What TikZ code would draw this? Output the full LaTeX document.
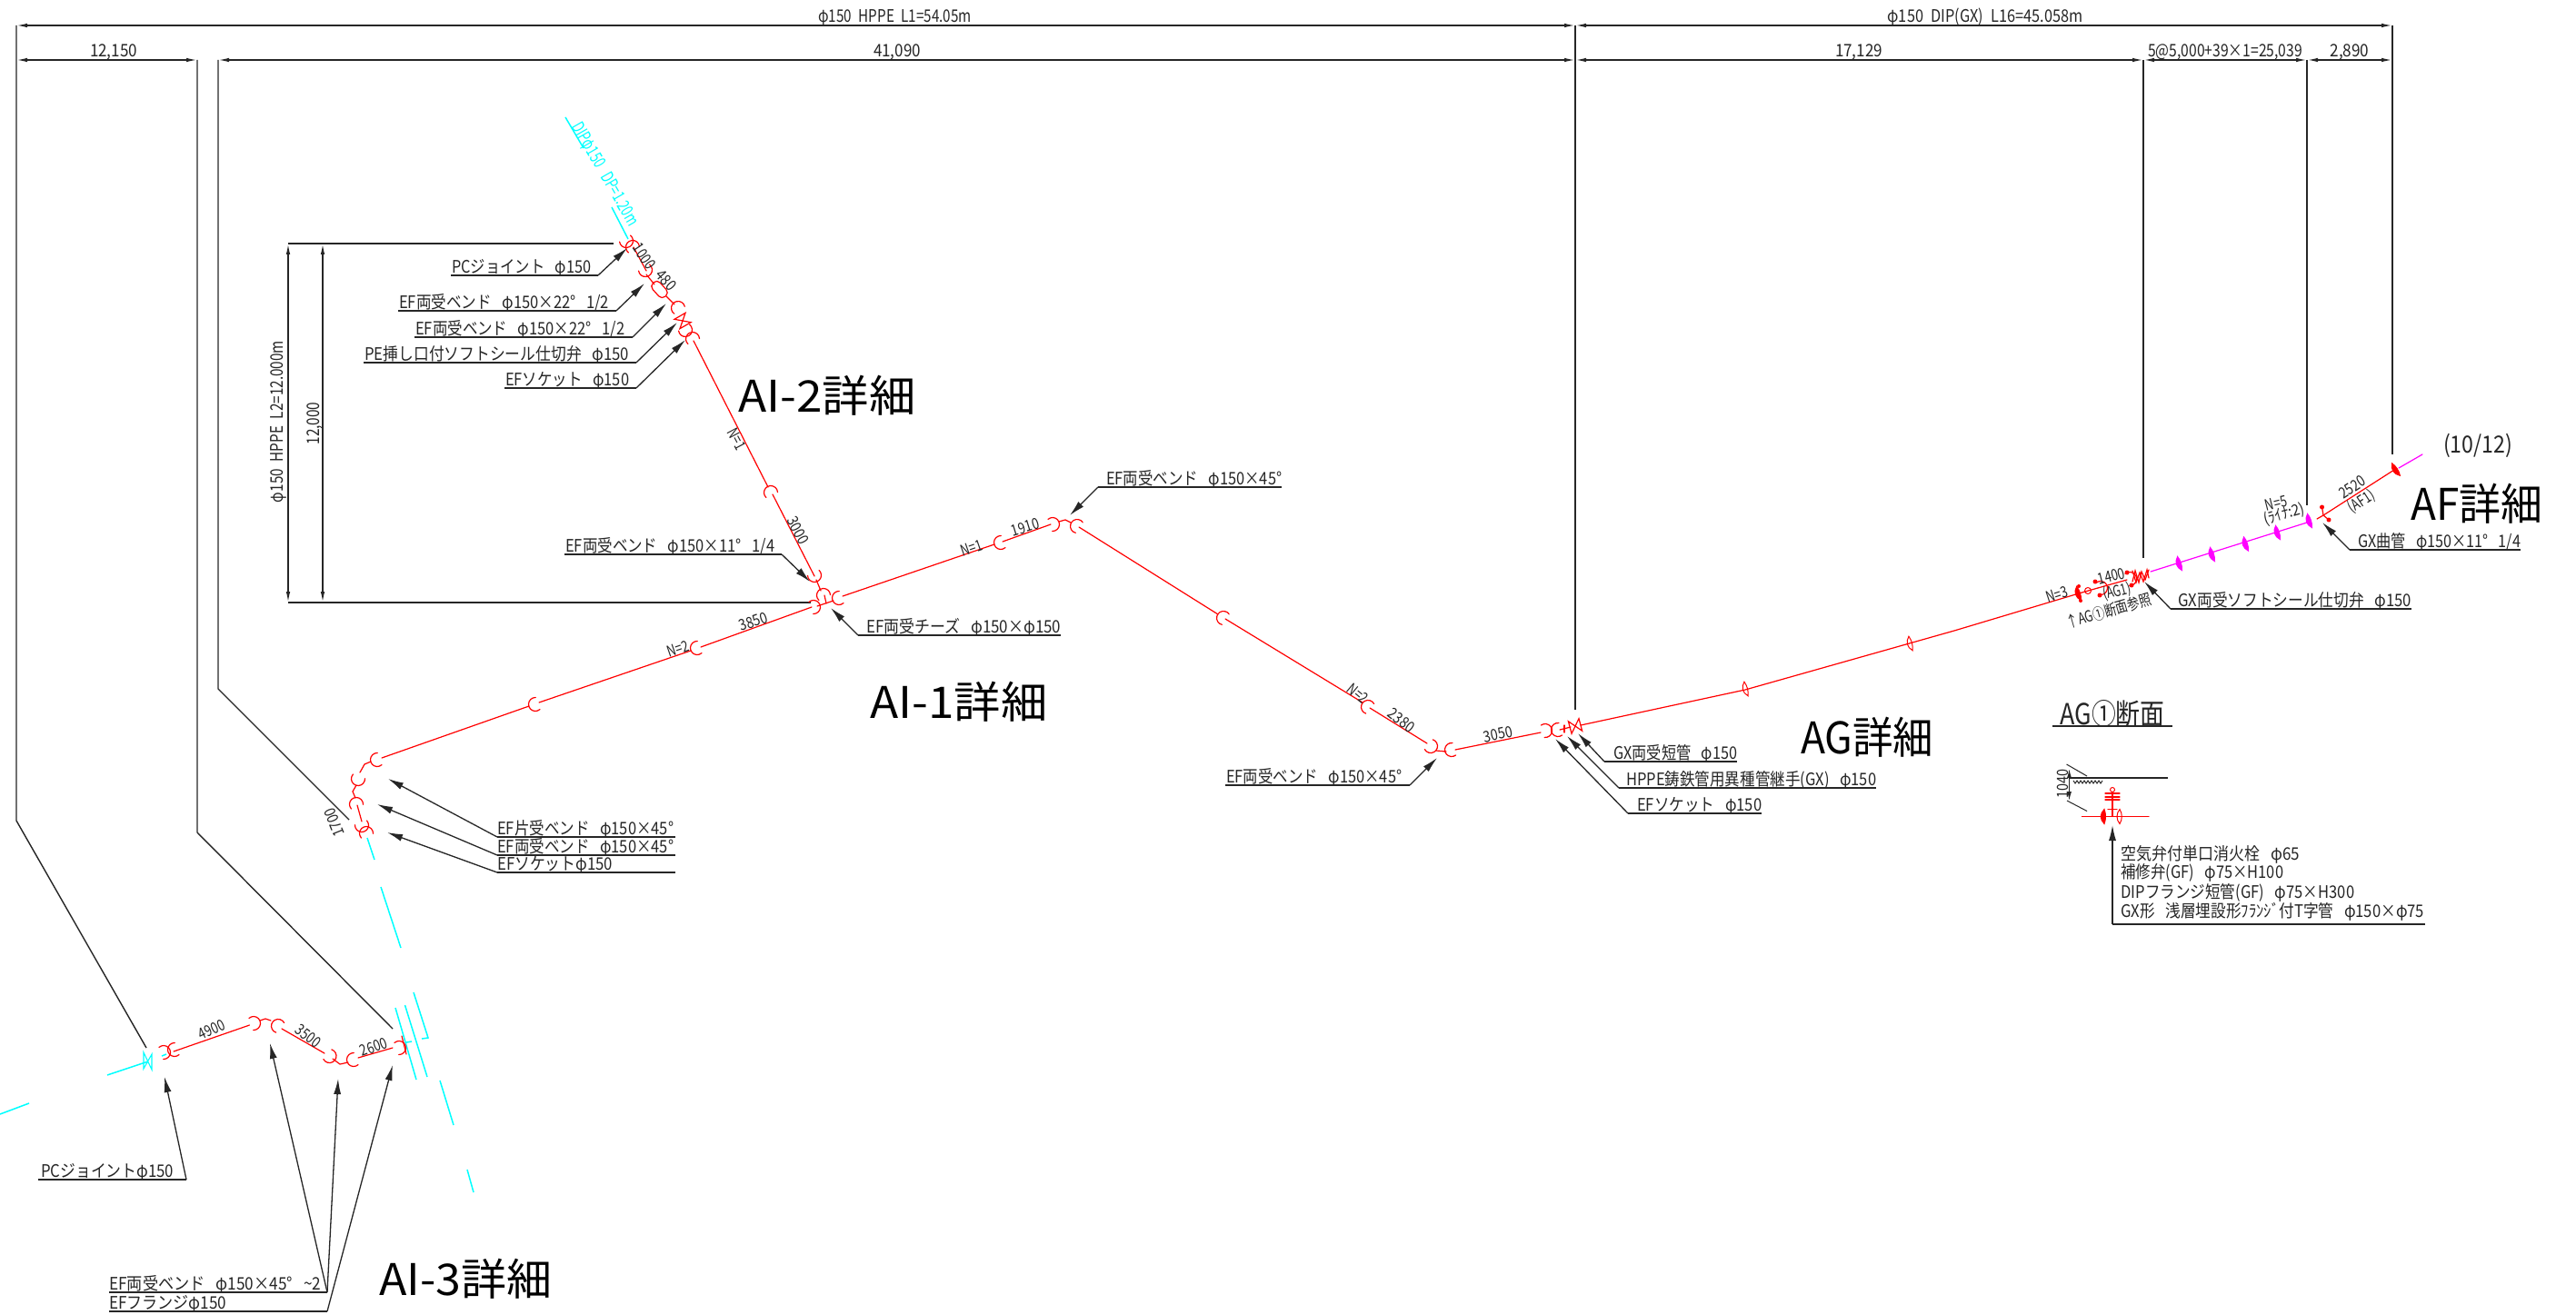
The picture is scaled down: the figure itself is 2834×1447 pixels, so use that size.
\documentclass[tikz,border=0pt]{standalone}
\usepackage{fontspec}
\usepackage{graphicx}
\setmainfont{Noto Sans CJK JP}
\usetikzlibrary{arrows.meta}
\definecolor{cy}{HTML}{00FFFF}
\definecolor{mg}{HTML}{FF00FF}
\definecolor{rd}{HTML}{FF0000}
\newcommand\Tw[2]{\setbox0=\hbox{#2}\pgfmathsetmacro\tmpsc{#1/\the\wd0}\scalebox{\tmpsc}[1]{\box0}}
\newcommand\sG{\hspace{.7em}}
\newcommand\Fs[1]{\fontsize{#1}{#1}\selectfont}
\tikzset{
 pipe/.style={draw=rd,line width=1.2pt,line cap=round},
 pipem/.style={draw=mg,line width=1.2pt,line cap=round},
 pipec/.style={draw=cy,line width=1.5pt},
 ink/.style={draw=black!85,line width=1.4pt},
 under/.style={draw=black!85,line width=1.8pt},
 dimh/.style={draw=black!85,line width=1.5pt,{Latex[length=12pt,width=4.5pt]}-{Latex[length=12pt,width=4.5pt]}},
 lead/.style={draw=black!85,line width=1.3pt,-{Latex[length=17pt,width=8pt]}},
 txt/.style={inner sep=0pt,text=black!85,font=\Fs{19}},
 sm/.style={inner sep=0pt,text=black!85,font=\Fs{17}},
 ttl/.style={inner sep=0pt,text=black,font=\Fs{48}},
}
% socket: C opening towards angle #4
\newcommand\Sk[4][pipe]{\draw[#1,shift={(#2,-#3)},rotate=#4] (68:7.5) arc (68:292:7.5);}
% lens fitting
\newcommand\Ln[4][rd]{\draw[draw=#1,line width=1pt,fill=#1,shift={(#2,-#3)},rotate=#4] (0,8) .. controls (-5,3) and (-5,-3) .. (0,-8) .. controls (2,-3) and (2,3) .. (0,8) -- cycle;}
% bowtie
\newcommand\Bw[3]{\draw[pipe,shift={(#1,-#2)},rotate=#3] (-6,7)--(6,-7)--(6,7)--(-6,-7)--cycle;}
% leader label, elbow at right end: id, xl, xr, y, text start, text end, tip x, tip y, text
\newcommand\Ld[9]{%
 \coordinate (#1a) at (#2,-#4);\coordinate (#1e) at (#3,-#4);\coordinate (#1t) at (#7,-#8);
 \node[txt,anchor=base west] (#1n) at (#5,-#4+2.5) {\Tw{\the\numexpr#6-#5\relax}{#9}};
 \draw[under] (#1a)--(#1e);\draw[lead] (#1e)--(#1t);}
% leader label, elbow at left end
\newcommand\Lr[9]{%
 \coordinate (#1a) at (#2,-#4);\coordinate (#1e) at (#3,-#4);\coordinate (#1t) at (#7,-#8);
 \node[txt,anchor=base west] (#1n) at (#5,-#4+2.5) {\Tw{\the\numexpr#6-#5\relax}{#9}};
 \draw[under] (#1a)--(#1e);\draw[lead] (#1a)--(#1t);}
\newcommand\Tx[7][txt]{\node[#1,rotate=#5] (#2) at (#3,-#4) {\Tw{#6}{#7}};}
\begin{document}
\begin{tikzpicture}[x=1pt,y=1pt]
\useasboundingbox (0,0) rectangle (2834,-1447);
\fill[white] (0,0) rectangle (2834,-1447);
% === dimension lines ===
\coordinate (v1) at (18,-28);\coordinate (v1b) at (18,-903);\coordinate (v1c) at (161,-1153);
\coordinate (v2) at (217,-66);\coordinate (v2b) at (217,-916);\coordinate (v2c) at (432,-1132);
\coordinate (v3) at (240,-66);\coordinate (v3b) at (240,-758);\coordinate (v3c) at (384,-902);
\coordinate (v4) at (1733,-28);\coordinate (v4b) at (1733,-781);
\coordinate (v5) at (2358,-66);\coordinate (v5b) at (2358,-614);
\coordinate (v6) at (2538,-66);\coordinate (v6b) at (2538,-556);
\coordinate (v7) at (2632,-28);\coordinate (v7b) at (2632,-500);
\draw[ink] (v1)--(v1b)--(v1c);
\draw[ink] (v2)--(v2b)--(v2c);
\draw[ink] (v3)--(v3b)--(v3c);
\draw[ink] (v4)--(v4b);\draw[ink] (v5)--(v5b);\draw[ink] (v6)--(v6b);\draw[ink] (v7)--(v7b);
\draw[dimh] (v1)--(v4);\draw[dimh] (v4)--(v7);
\coordinate (r1) at (18,-66);\coordinate (r2) at (1733,-66);\coordinate (r3) at (2632,-66);
\draw[dimh] (r1)--(v2);\draw[dimh] (v3)--(r2);\draw[dimh] (r2)--(v5);\draw[dimh] (v5)--(v6);\draw[dimh] (v6)--(r3);
\Tx{d1}{984.5}{19}{0}{169}{φ150\hspace{.5em}HPPE\hspace{.5em}L1=54.05m}
\Tx{d2}{2184}{19}{0}{215}{φ150\hspace{.5em}DIP(GX)\hspace{.5em}L16=45.058m}
\Tx{d3}{125}{57}{0}{52}{12,150}
\Tx{d4}{987}{57}{0}{52}{41,090}
\Tx{d5}{2045}{57}{0}{52}{17,129}
\Tx{d6}{2448}{57}{0}{170}{5@5,000+39×1=25,039}
\Tx{d7}{2585}{57}{0}{43}{2,890}
% 12 m dimension
\coordinate (h1) at (317,-268);\coordinate (h1e) at (675,-268);\coordinate (h1m) at (355,-268);
\coordinate (h2) at (317,-663);\coordinate (h2e) at (892,-663);\coordinate (h2m) at (355,-663);
\draw[ink] (h1)--(h1e);\draw[ink] (h2)--(h2e);
\draw[dimh] (h1)--(h2);\draw[dimh] (h1m)--(h2m);
\Tx{d8}{346}{466}{90}{47}{12,000}
\Tx{d9}{306}{464}{90}{178}{φ150\hspace{.5em}HPPE\hspace{.5em}L2=12.000m}
% === AI-2 branch ===
\draw[pipec] (622,-129)--(642,-163);\draw[pipec] (673,-228)--(691,-263);
\node[txt,text=cy,rotate=-60] (cy1) at (665,-192) {\Tw{128}{DIPφ150\sG DP=1.20m}};
\Sk{689}{265}{120}\Sk{696}{272}{-60}
\draw[pipe] (697,-272)--(711,-298);
\Sk{710}{297}{120}
\draw[pipe] (711,-302)--(720,-313);
\draw[pipe,shift={(725.5,-318.5)},rotate=-48,rounded corners=5pt] (-10,-5.5) rectangle (10,5.5);
\draw[pipe] (733,-326)--(742,-335);
\Sk{746}{339}{-55}
\Bw{751}{353}{-60}
\Sk{754}{363}{120}
\Sk{762}{373}{-65}
\draw[pipe] (763,-375)--(845,-536);
\Sk{848}{542}{-65}
\draw[pipe] (850,-544)--(896,-634);
\Sk{896}{633}{115}
\draw[pipe] (898,-638)--(903,-650);
\Sk{906}{655}{-65}
\draw[pipe] (907,-655)--(909,-664);
\Sk{895}{668}{200}
\draw[pipe] (899,-667)--(917,-661);
\Sk{923}{658}{20}
% === left run ===
\draw[pipe] (893,-668)--(771,-712);
\Sk{767}{713}{20}
\draw[pipe] (760,-716)--(593,-773);
\Sk{589}{775}{20}
\draw[pipe] (582,-777)--(420,-834);
\Sk{415}{836}{20}
\draw[pipe] (408,-838)--(401,-841)--(396,-850);
\Sk{394}{857}{70}
\draw[pipe] (392,-864)--(388,-871)--(391,-878);
\Sk{392}{885}{-70}
\draw[pipe] (393,-886)--(398,-904);
\Sk{398}{908}{110}
\Sk{403}{917}{-70}
\draw[pipec] (404,-922)--(412,-946);
% === right run ===
\draw[pipe] (927,-656)--(1094,-599);
\Sk{1101}{597}{20}
\draw[pipe] (1103,-596)--(1156,-577);
\Sk{1158}{577}{200}
\draw[pipe] (1165,-574)--(1172,-572)--(1178,-575);
\Sk{1185}{579}{-35}
\draw[pipe] (1187,-580)--(1340,-676);
\Sk{1346}{680}{-35}
\draw[pipe] (1348,-681)--(1499,-773);
\Sk{1505}{778}{-40}
\draw[pipe] (1507,-779)--(1570,-818);
\Sk{1574}{821}{140}
\draw[pipe] (1580,-826)--(1591,-827);
\Sk{1597}{825}{15}
\draw[pipe] (1601,-825)--(1695,-806);
\Sk{1700}{804}{195}
\Sk{1714}{803}{15}
\draw[pipe] (1716,-803)--(1728,-800);
\draw[pipe] (1721,-798)--(1721,-806);
\Bw{1733}{799}{15}
\draw[pipe] (1739,-798)--(1920,-759)--(2150,-694)--(2287,-653);
\draw[pipe,line width=1pt,shift={(1921,-758)},rotate=15] (0,8) .. controls (-5,3) and (-5,-3) .. (0,-8) .. controls (2,-3) and (2,3) .. (0,8) -- cycle;
\draw[pipe,line width=1pt,shift={(2102,-708)},rotate=15] (0,8) .. controls (-5,3) and (-5,-3) .. (0,-8) .. controls (2,-3) and (2,3) .. (0,8) -- cycle;
\Ln{2287}{653}{18}
\fill[rd] (2287,-645) circle (2) (2289,-661) circle (2);
\draw[pipe,line width=1pt] (2297,-650) circle (3.5);
\draw[pipe] (2287,-653)--(2308,-647);
\Sk{2311}{647}{200}
\fill[rd] (2305,-640) circle (2.5) (2310,-655) circle (2.5);
\draw[pipe] (2308,-647)--(2340,-638);
\Sk{2343}{637}{200}
\fill[rd] (2340,-630) circle (2.5) (2345,-644) circle (2.5);
\draw[pipe] (2346,-640)--(2349,-628)--(2353,-641)--(2356,-629)--(2360,-638)--(2364,-627);
\draw[pipe] (2346,-628)--(2350,-641)--(2354,-630)--(2358,-640)--(2362,-627)--(2364,-636);
\draw[pipem] (2366,-629)--(2538,-575);
\Ln[mg]{2398}{620}{18}\Ln[mg]{2434}{610}{18}\Ln[mg]{2471}{598.5}{18}\Ln[mg]{2506}{586}{18}\Ln[mg]{2541}{573}{18}
\draw[pipe] (2549,-571)--(2556,-567)--(2554.5,-558);
\draw[pipe] (2556,-567)--(2562,-572);
\fill[rd] (2554.5,-558) circle (2.5) (2562,-572) circle (2.5);
\draw[pipe] (2556,-567)--(2634,-517);
\Ln{2636}{516.6}{33}
\draw[pipem] (2639,-515)--(2665,-500);
% === AI-3 ===
\draw[pipec] (419,-976)--(441,-1043);
\draw[pipec] (435,-1109)--(458,-1188);\draw[pipec] (445.5,-1106)--(470,-1185);
\draw[pipec] (455,-1092)--(471,-1142)--(464,-1143);
\draw[pipec] (447,-1147)--(453,-1146);
\draw[pipec] (484,-1189)--(499,-1238);\draw[pipec] (514,-1287)--(521,-1312);
\draw[pipec] (118,-1183)--(163,-1168);\draw[pipec] (0,-1226)--(32,-1214);
\draw[cy,line width=1.1pt] (158,-1158)--(167,-1177)--(167,-1160)--(158,-1176)--cycle;
\draw[pipec] (178,-1162)--(183,-1160);
\Sk{180}{1158}{200}\Sk{192}{1155}{20}
\draw[pipe] (191,-1157)--(274.5,-1128);
\Sk{279}{1126}{200}
\draw[pipe] (286,-1123)--(292,-1121)--(298,-1123);
\Sk{306}{1129}{-40}
\draw[pipe] (310,-1132)--(357,-1159);
\Sk{362.5}{1162}{140}
\draw[pipe] (366,-1165)--(374,-1171)--(383,-1169);
\Sk{389}{1166}{20}
\draw[pipe] (394,-1164)--(432,-1153);
\Sk{439}{1153}{200}
\draw[pipe] (442,-1140)--(447,-1160);
\Tx[sm]{a1}{233}{1133}{25}{30}{4900}
\Tx[sm]{a2}{339}{1140}{-38}{30}{3500}
\Tx[sm]{a3}{411}{1152}{20}{30}{2600}
\Ld{la}{42}{205}{1298}{45}{191}{181}{1185}{PCジョイントφ150}
\Ld{lb}{120}{360}{1422}{120}{353}{297}{1148}{EF両受ベンド\sG φ150×45°\sG\textasciitilde 2}
\coordinate (lbt2) at (372,-1187);
\draw[lead] (lbe)--(lbt2);
\Ld{lc}{120}{360}{1443}{120}{249}{432}{1172}{EFフランジφ150}
% === pipe labels ===
\Tx[sm]{p1}{709}{282}{-56}{30}{1000}
\Tx[sm]{p2}{733}{308}{-48}{24}{480}
\Tx[sm]{p3}{811}{483}{-62}{24}{N=1}
\Tx[sm]{p4}{878}{584}{-62}{32}{3000}
\Tx[sm]{p5}{829}{684}{19}{32}{3850}
\Tx[sm]{p6}{746}{714}{19}{24}{N=2}
\Tx[sm]{p7}{1069}{603}{19}{24}{N=1}
\Tx[sm]{p8}{1128}{580}{17}{31}{1910}
\Tx[sm]{p9}{1494}{763}{-40}{24}{N=2}
\Tx[sm]{p10}{1542}{793}{-38}{32}{2380}
\Tx[sm]{p11}{1648}{808}{12}{32}{3050}
\Tx[sm]{p12}{2263}{654.4}{18}{24}{N=3}
\Tx[sm]{p13}{2323}{634}{14}{30}{1400}
\Tx[sm]{p14}{2329}{651}{14}{31}{(AG1)}
\Tx[sm]{p15}{2320}{672}{16}{96}{↑AG①断面参照}
\Tx[sm]{p16}{2504}{554}{14}{24}{N=5}
\Tx[sm]{p17}{2513}{566}{16}{46}{(ﾗｲﾅ:2)}
\Tx[sm]{p18}{2588}{536}{33}{31}{2520}
\Tx[sm]{p19}{2598}{552}{33}{31}{(AF1)}
\Tx[sm]{p20}{368}{905}{112}{32}{1700}
% === leaders ===
\Ld{l1}{496}{658}{303}{497}{650}{690}{273}{PCジョイント\sG φ150}
\Ld{l2}{438}{678}{342}{439}{670}{709}{312}{EF両受ベンド\sG φ150×22°\sG 1/2}
\Ld{l3}{456}{696}{371}{457}{687}{733}{334}{EF両受ベンド\sG φ150×22°\sG 1/2}
\Ld{l4}{400}{700}{399}{401}{692}{745}{355}{PE挿し口付ソフトシール仕切弁\sG φ150}
\Ld{l5}{555}{700}{427}{556}{692}{754}{374}{EFソケット\sG φ150}
\Ld{l6}{621}{860}{610}{622}{852}{891}{640}{EF両受ベンド\sG φ150×11°\sG 1/4}
\Lr{l7}{944}{1167}{699}{953}{1167}{914}{669}{EF両受チーズ\sG φ150×φ150}
\Lr{l8}{1208}{1410}{536}{1217}{1410}{1177}{567}{EF両受ベンド\sG φ150×45°}
\Lr{l9}{547}{743}{921}{547}{741}{427}{857}{EF片受ベンド\sG φ150×45°}
\Lr{l10}{547}{743}{941}{547}{741}{415}{885}{EF両受ベンド\sG φ150×45°}
\Lr{l11}{547}{743}{960}{547}{674}{426}{916}{EFソケットφ150}
\Lr{l12}{1765}{1911}{838}{1775}{1911}{1736}{807}{GX両受短管\sG φ150}
\Lr{l13}{1781}{2064}{867}{1789}{2064}{1724}{810}{HPPE鋳鉄管用異種管継手(GX)\sG φ150}
\Lr{l14}{1791}{1938}{895}{1801}{1938}{1711}{813}{EFソケット\sG φ150}
\Ld{l15}{1348}{1551}{864}{1349}{1542}{1581}{834}{EF両受ベンド\sG φ150×45°}
\Lr{l16}{2388}{2653}{670}{2396}{2653}{2359}{640}{GX両受ソフトシール仕切弁\sG φ150}
\Lr{l17}{2585}{2773}{605}{2594}{2773}{2555}{575}{GX曲管\sG φ150×11°\sG 1/4}
% === titles ===
\Tx[ttl]{t1}{910}{435}{0}{195}{AI-2詳細}
\Tx[ttl]{t2}{1055}{772}{0}{195}{AI-1詳細}
\Tx[ttl]{t3}{2054}{811}{0}{146}{AG詳細}
\Tx[ttl]{t4}{2725}{554}{0}{145}{AF詳細}
\Tx[ttl]{t5}{512}{1407}{0}{190}{AI-3詳細}
\node[inner sep=0pt,text=black!85,font=\Fs{26}] (t6) at (2726,-490) {\Tw{76}{(10/12)}};
% === AG section ===
\node[inner sep=0pt,text=black!85,font=\Fs{32}] (t7) at (2324,-785) {\Tw{115}{AG①断面}};
\coordinate (s1) at (2258,-799);\coordinate (s2) at (2390,-799);\draw[under] (s1)--(s2);
\coordinate (g1) at (2276,-856);\coordinate (g2) at (2385,-856);\draw[under] (g1)--(g2);
\draw[ink,line width=1pt] (2281,-859)\foreach \i in {1,...,8} {--++(2,-3)--++(2,3)};
\draw[ink,line width=1pt] (2273.5,-841)--(2296,-854);
\draw[ink,line width=1pt] (2274,-881)--(2296,-892.5);
\coordinate (e1) at (2276.5,-846);\coordinate (e2) at (2276.5,-881);
\draw[draw=black!85,line width=1.2pt,{Latex[length=10pt,width=5pt]}-{Latex[length=10pt,width=5pt]}] (e1)--(e2);
\Tx[sm]{s3}{2269}{862}{90}{32}{1040}
\draw[pipe,line width=1pt] (2324,-869) circle (2.5);
\draw[pipe] (2324,-871.5)--(2324,-898.5);
\draw[pipe] (2316,-873)--(2332,-873);\draw[pipe] (2316,-877)--(2332,-877);\draw[pipe] (2316,-880)--(2332,-880);
\draw[pipe] (2319,-890.5)--(2329,-890.5);
\draw[pipe] (2290.5,-898.5)--(2364,-898.5);
\Ln{2315}{898.5}{0}
\draw[pipe,line width=1pt] (2332,-890.5) .. controls (2328,-895) and (2328,-902) .. (2332,-906.5) .. controls (2335,-902) and (2335,-895) .. (2332,-890.5) -- cycle;
\coordinate (ga) at (2668,-1017);\coordinate (gb) at (2324,-1017);\coordinate (gc) at (2324,-908);
\draw[under] (ga)--(gb);
\draw[lead] (gb)--(gc);
\node[txt,anchor=west] (g3) at (2333,-940) {\Tw{197}{空気弁付単口消火栓\sG φ65}};
\node[txt,anchor=west] (g4) at (2333,-960.5) {\Tw{179}{補修弁(GF)\sG φ75×H100}};
\node[txt,anchor=west] (g5) at (2333,-982) {\Tw{257}{DIPフランジ短管(GF)\sG φ75×H300}};
\node[txt,anchor=west] (g6) at (2333,-1003.5) {\Tw{334}{GX形\sG 浅層埋設形ﾌﾗﾝｼﾞ付T字管\sG φ150×φ75}};
\end{tikzpicture}
\end{document}
